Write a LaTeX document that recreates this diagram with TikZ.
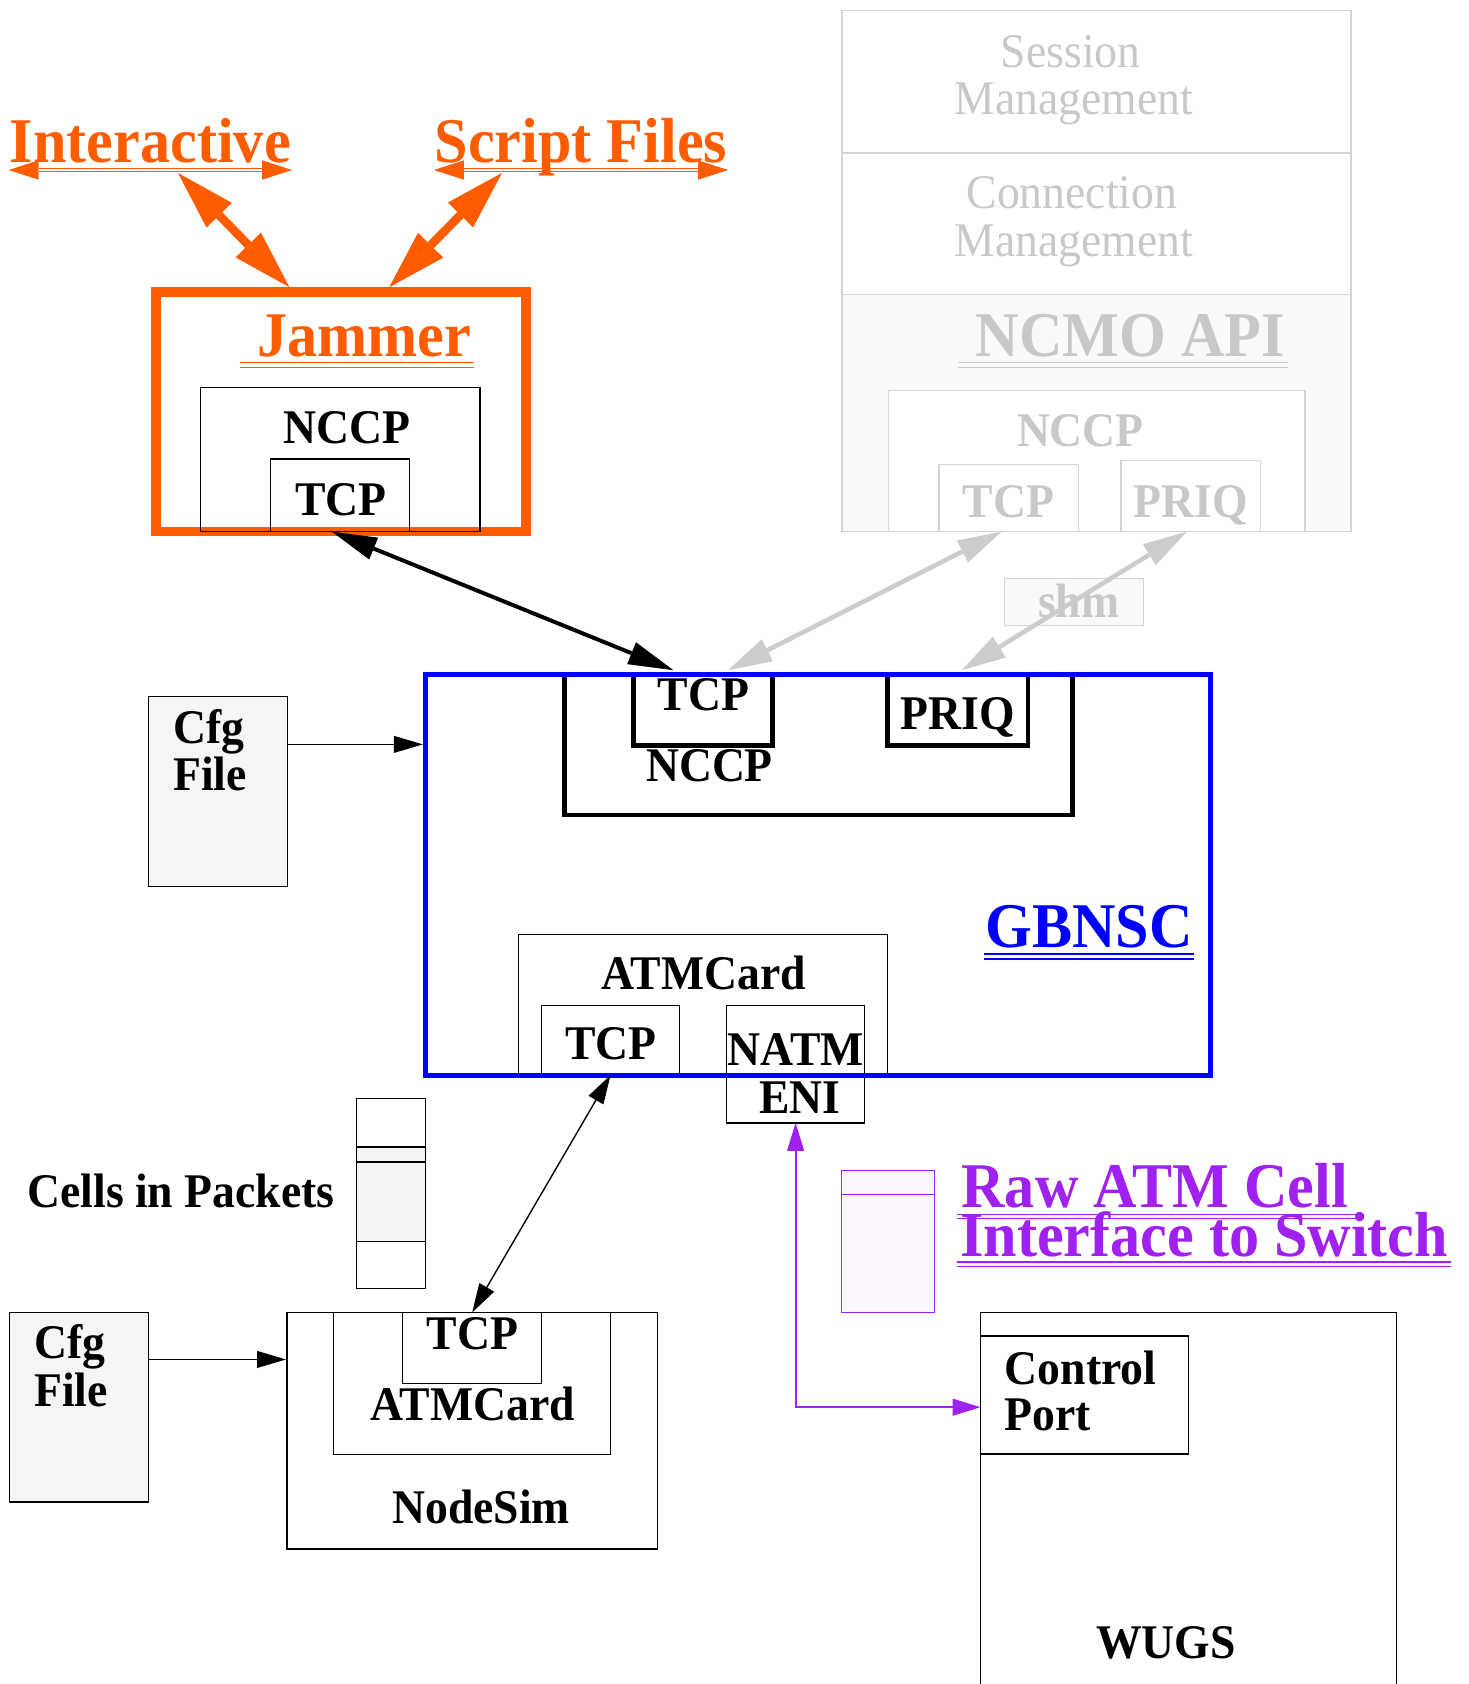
\documentclass[tikz,border=0pt]{standalone}
\usepackage{fontspec}
\setmainfont{Liberation Serif}[FakeStretch=0.945]
\usetikzlibrary{arrows.meta,calc}

\definecolor{jamorange}{RGB}{255,92,0}
\definecolor{gbblue}{RGB}{0,0,255}
\definecolor{rawpurple}{RGB}{160,32,240}
\definecolor{ghosttext}{RGB}{200,200,200}
\definecolor{ghostline}{RGB}{212,212,212}
\definecolor{ghostarrow}{RGB}{204,204,204}
\definecolor{ghostfill}{RGB}{249,249,249}
\definecolor{filefill}{RGB}{245,245,245}
\definecolor{cellfill}{RGB}{244,244,244}
\definecolor{rawfill}{RGB}{253,248,253}

\newcommand\labbig{\fontsize{59.3}{63}\selectfont\bfseries}
\newcommand\labmid{\fontsize{45}{48}\selectfont\bfseries}
\newcommand\labreg{\fontsize{45}{48}\selectfont}

% rectangle node from its top-left (x1,y1) to bottom-right (x2,y2)
\newcommand\rectnode[6][]{%
  \node[rectbox,#1,minimum width={(#4-#2)*1pt},minimum height={(#5-#3)*1pt}] (#6) at (#2,#3) {};}

\tikzset{
  rectbox/.style={draw, line width=1.2pt, inner sep=0pt, outer sep=0pt, anchor=north west},
  txt/.style={inner sep=0pt, outer sep=0pt, anchor=base, font=\labmid},
  txtl/.style={txt, anchor=base west},
  bigtxt/.style={txt, font=\labbig},
  ghosttxt/.style={txt, text=ghosttext},
  orangebig/.tip={Triangle[length=55pt,width=33pt,line width=0pt]},
  orangesmall/.tip={Triangle[length=28pt,width=18pt,line width=0pt]},
  greytip/.tip={Triangle[length=41pt,width=23pt,line width=0pt]},
  blacktip/.tip={Triangle[length=42pt,width=22pt,line width=0pt]},
  thintip/.tip={Triangle[length=27pt,width=16pt,line width=0pt]},
  feed/.style={line width=1.3pt, -thintip},
  link/.style={line width=1.3pt, thintip-thintip},
}

\begin{document}
\begin{tikzpicture}[x=1pt,y=-1pt]
\useasboundingbox (0,0) rectangle (1367,1568);
\clip (0,0) rectangle (1367,1568);

% ---------- faded management stack ----------
\rectnode[draw=ghostline]{784}{10}{1258}{142.5}{sess}
\rectnode[draw=ghostline]{784}{142.5}{1258}{274.4}{conn}
\rectnode[draw=ghostline,fill=ghostfill]{784}{274.4}{1258}{495}{api}
\rectnode[draw=ghostline,fill=white]{827.4}{363.7}{1215}{495}{anccp}
\rectnode[draw=ghostline,fill=white]{874.3}{432.5}{1004}{495}{atcp}
\rectnode[draw=ghostline,fill=white]{1043.7}{428.7}{1173.6}{495}{apriq}
\node[ghosttxt,font=\labreg] (sesst) at (997,62.7) {Session};
\node[ghosttxt,font=\labreg] (sessm) at (1000,106.4) {Management};
\node[ghosttxt,font=\labreg] (connt) at (998,194.6) {Connection};
\node[ghosttxt,font=\labreg] (connm) at (1000,238.6) {Management};
\draw[ghosttext,line width=1.2pt] (891.7,337.5) -- (1199,337.5) (891.7,342) -- (1199,342);
\node[ghosttxt,font=\labbig] (apit) at (1052.5,331.8) {NCMO API};
\node[ghosttxt] (anccpt) at (1006,415.4) {NCCP};
\node[ghosttxt] (atcpt) at (939,482) {TCP};
\node[ghosttxt] (apriqt) at (1109,482) {PRIQ};

\rectnode[draw=ghostline,fill=ghostfill]{935}{538.6}{1065}{582.7}{shm}
\node[ghosttxt] (shmt) at (1004.5,575) {shm};

% ---------- GBNSC internals ----------
\rectnode[line width=4.3pt]{525.5}{628}{998.7}{759}{gnccp}
\rectnode[line width=4.3pt]{590}{628}{719.3}{694}{gtcp}
\rectnode[line width=4.3pt]{826.2}{628}{957}{694.4}{gpriq}
\rectnode{482.7}{869.8}{826.2}{1001}{gatm}
\rectnode{504}{936}{633}{1001}{gatcp}
\rectnode[fill=white]{676.6}{936}{805}{1045.5}{natm}
\node[txt] (gtcpt) at (655,661.2) {TCP};
\node[txt] (gnccpt) at (660.6,727.3) {NCCP};
\node[txt] (gpriqt) at (892,679.2) {PRIQ};
\node[txt] (gatmt) at (655,921.3) {ATMCard};
\node[txt] (gatcpt) at (569,986.5) {TCP};
\node[txt] (natmt) at (741,991.8) {NATM};
\node[txt] (enit) at (745,1036.8) {ENI};
\rectnode[draw=gbblue,line width=4.6pt]{396}{628}{1127.5}{1001}{gb}
\draw[gbblue,line width=1.2pt] (916,888.4) -- (1112,888.4) (916,893) -- (1112,893);
\node[bigtxt,text=gbblue] (gbt) at (1014,882.5) {GBNSC};

% faded links to the management stack
\draw[ghostarrow,line width=4.3pt,greytip-greytip]
  ($(gtcp.north west)!0.68!(gtcp.north east)+(0,-4)$) -- ($(atcp.south west)!0.45!(atcp.south east)$);
\draw[ghostarrow,line width=4.3pt,greytip-greytip]
  ($(gpriq.north west)!0.53!(gpriq.north east)+(0,-4)$) -- ($(apriq.south west)!0.472!(apriq.south east)$);

% ---------- Jammer ----------
\coordinate (iaul) at (8,158.3);
\coordinate (iaur) at (272,158.3);
\coordinate (saul) at (404,158.3);
\coordinate (saur) at (678,158.3);
\draw[jamorange,line width=4.3pt,orangesmall-orangesmall] (iaul) -- (iaur);
\draw[white,line width=1.9pt] ($(iaul)+(28,0)$) -- ($(iaur)-(28,0)$);
\draw[jamorange,line width=4.3pt,orangesmall-orangesmall] (saul) -- (saur);
\draw[white,line width=1.9pt] ($(saul)+(28,0)$) -- ($(saur)-(28,0)$);
\node[bigtxt,text=jamorange] (inter) at (140,151) {Interactive};
\node[bigtxt,text=jamorange] (script) at (541,151) {Script Files};

\rectnode[draw=jamorange,line width=9pt]{145}{272}{490}{495}{jam}
\coordinate (iatip) at (165.7,161);
\coordinate (satip) at (467.4,161);
\draw[jamorange,line width=8pt,orangebig-orangebig]
  (iatip) -- ($(jam.north west)!0.361!(jam.north east)+(0,-4.5)$);
\draw[jamorange,line width=8pt,orangebig-orangebig]
  (satip) -- ($(jam.north west)!0.630!(jam.north east)+(0,-4.5)$);
\draw[jamorange,line width=1.2pt] (223,337.7) -- (441,337.7) (223,342) -- (441,342);
\node[bigtxt,text=jamorange] (jamt) at (339,332) {Jammer};
\rectnode{186.9}{360.7}{447}{495}{jnccp}
\rectnode{251.8}{427.5}{381.2}{495}{jtcp}
\node[txt] (jnccpt) at (323.3,412.8) {NCCP};
\node[txt] (jtcpt) at (317.4,479.6) {TCP};

\draw[line width=3.7pt,blacktip-blacktip]
  ($(jtcp.south west)!0.442!(jtcp.south east)$) -- ($(gtcp.north west)!0.286!(gtcp.north east)+(0,-4)$);

% ---------- configuration files ----------
\rectnode[fill=filefill]{138}{648.8}{267.6}{825.7}{cfga}
\node[txtl] (cfgat) at (161.4,692.2) {Cfg};
\node[txtl] (cfgaf) at (161.4,735.7) {File};
\coordinate (cfgaout) at ($(cfga.north east)+(0,44.3)$);
\draw[feed,shorten >=2.3pt] (cfgaout) -- (cfgaout -| gb.west);

\rectnode[fill=filefill]{9.1}{1222}{138.4}{1398.4}{cfgb}
\node[txtl] (cfgbt) at (32,1264.9) {Cfg};
\node[txtl] (cfgbf) at (32,1309.3) {File};

% ---------- cells in packets ----------
\node[txt] (cells) at (168.4,1124.3) {Cells in Packets};
\rectnode{331.7}{1023}{396.2}{1200}{pkt}
\rectnode[fill=cellfill]{331.7}{1068}{396.2}{1082}{pkthdr}
\rectnode[fill=cellfill]{331.7}{1082}{396.2}{1156}{pktbody}

% ---------- NodeSim ----------
\rectnode{267.3}{1222}{611.9}{1442.4}{ns}
\rectnode{310.5}{1222}{568.7}{1354}{nsatm}
\rectnode{375}{1222}{504.3}{1288.2}{nstcp}
\node[txt] (nstcpt) at (440,1256.5) {TCP};
\node[txt] (nsatmt) at (440,1322.4) {ATMCard};
\node[txt] (nst) at (448,1418.6) {NodeSim};
\coordinate (cfgbout) at ($(cfgb.north east)+(0,43.8)$);
\draw[feed,shorten >=1pt] (cfgbout) -- (cfgbout -| ns.west);
\draw[link] (nstcp.north) -- (gatcp.south);

% ---------- raw cell interface and WUGS ----------
\rectnode[draw=rawpurple,fill=rawfill]{783.5}{1089.9}{870.2}{1222}{rawcell}
\rectnode[draw=rawpurple,fill=rawfill]{783.5}{1089.9}{870.2}{1112.3}{rawhdr}
\draw[rawpurple,line width=1.2pt] (891,1130.5) -- (1270,1130.5) (891,1134.3) -- (1270,1134.3);
\draw[rawpurple,line width=1.2pt] (891,1175) -- (1350.7,1175) (891,1179.3) -- (1350.7,1179.3);
\node[bigtxt,text=rawpurple] (rawt) at (1075.3,1124.3) {Raw ATM Cell};
\node[bigtxt,text=rawpurple] (ifacet) at (1121.2,1169.6) {Interface to Switch};

\rectnode{913}{1222}{1300.4}{1600}{wugs}
\rectnode{913}{1243.9}{1106.3}{1353.8}{ctrl}
\node[txtl] (ctrlt) at (935.6,1289.2) {Control};
\node[txtl] (portt) at (935.6,1331.7) {Port};
\node[txt] (wugst) at (1085.7,1543.8) {WUGS};
\coordinate (ctlin) at ($(ctrl.west)+(0,11.4)$);
\draw[rawpurple,line width=1.8pt,{Triangle[length=26pt,width=16pt,line width=0pt]}-{Triangle[length=26pt,width=16pt,line width=0pt]}]
  (natm.south) |- (ctlin);
\end{tikzpicture}
\end{document}
